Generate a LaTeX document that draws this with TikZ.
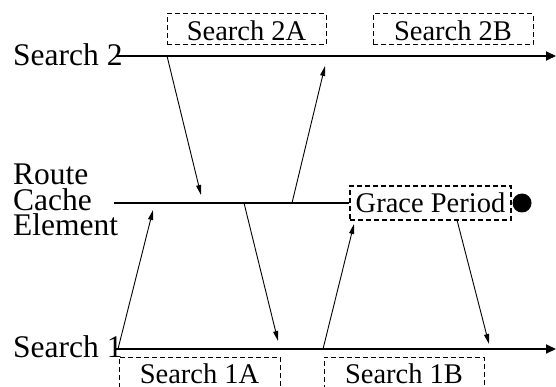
\documentclass[tikz,border=0pt]{standalone}
\usepackage{fontspec}
\setmainfont{Liberation Serif}
\usetikzlibrary{arrows.meta}
\begin{document}
\begin{tikzpicture}[x=1pt,y=-1pt,
  lbl/.style={inner sep=0pt,font=\fontsize{28.5}{26}\selectfont},
  side/.style={inner sep=0pt,font=\fontsize{31.5}{25.6}\selectfont},
  dbox/.style={draw,line width=1pt,dash pattern=on 5pt off 3pt,inner sep=0pt},
  gbox/.style={draw,line width=1.8pt,dash pattern=on 5pt off 3pt,inner sep=0pt},
  axis/.style={line width=2pt,-{Triangle[length=10pt,width=9pt]}},
  track/.style={line width=2pt},
  msg/.style={line width=0.9pt,-{Triangle[length=10pt,width=5pt]}}]
\useasboundingbox (0,0) rectangle (556,387);
\clip (0,0) rectangle (556,387);
% labels
\node[side,anchor=base west] (s2lbl) at (13,66) {Search 2};
\node[side,anchor=base west] (s1lbl) at (13,357) {Search 1};
\node[side,anchor=west,align=left] (rcelbl) at (13,200) {Route\\Cache\\Element};
% track end points
\coordinate (s2a) at (116,56);
\coordinate (s2b) at (556,56);
\coordinate (s1a) at (116,349);
\coordinate (s1b) at (556,349);
\coordinate (ra) at (114,203);
% boxes
\node[dbox,minimum width=159pt,minimum height=31pt] (b2a) at (246.5,29.5) {};
\node[lbl,anchor=base] at (246.5,41) {Search 2A};
\node[dbox,minimum width=160pt,minimum height=31pt] (b2b) at (453,29.5) {};
\node[lbl,anchor=base] at (453,41) {Search 2B};
\node[dbox,minimum width=161pt,minimum height=36pt] (b1a) at (199.5,375) {};
\node[lbl,anchor=base] at (199.5,383) {Search 1A};
\node[dbox,minimum width=160pt,minimum height=36pt] (b1b) at (404,375) {};
\node[lbl,anchor=base] at (404,383) {Search 1B};
\node[gbox,minimum width=161pt,minimum height=34pt] (grace) at (430.5,203) {};
\node[lbl,anchor=base] at (430.5,213) {Grace Period};
\node[circle,fill,inner sep=0pt,minimum size=19pt] (dot) at (522,203) {};
% tracks
\draw[axis] (s2a) -- (s2b);
\draw[axis] (s1a) -- (s1b);
\draw[track] (ra) -- (grace.west);
% message endpoints
\coordinate (a1s) at (167,56);  \coordinate (a1e) at (201,195);
\coordinate (a2s) at (292,203); \coordinate (a2e) at (325,66);
\coordinate (a3s) at (118,349); \coordinate (a3e) at (153,210);
\coordinate (a4s) at (244,203); \coordinate (a4e) at (278,341);
\coordinate (a5s) at (323,349); \coordinate (a5e) at (354,224);
\coordinate (a6s) at (457,220); \coordinate (a6e) at (489,344);
\draw[msg] (a1s) -- (a1e);
\draw[msg] (a2s) -- (a2e);
\draw[msg] (a3s) -- (a3e);
\draw[msg] (a4s) -- (a4e);
\draw[msg] (a5s) -- (a5e);
\draw[msg] (a6s) -- (a6e);
\end{tikzpicture}
\end{document}
